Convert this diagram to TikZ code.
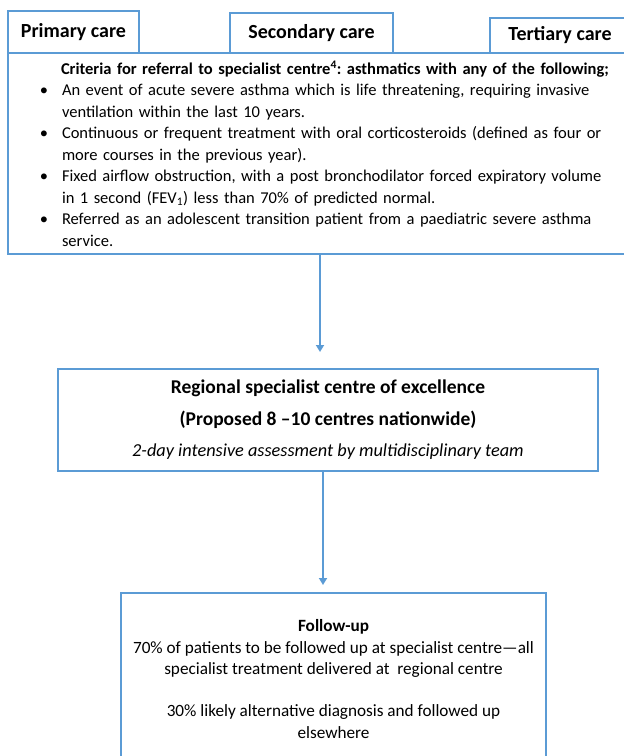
\documentclass[tikz,border=0pt]{standalone}
\usepackage{fontspec}
\setmainfont{Carlito}
\usepackage{enumitem}
\usetikzlibrary{arrows.meta}
\frenchspacing

\definecolor{boxblue}{RGB}{91,155,213}

\tikzset{
  box/.style={draw=boxblue, line width=2pt, inner sep=0pt},
  tab/.style={box, font=\fontsize{20}{22}\selectfont\bfseries},
  flow/.style={draw=boxblue, line width=2pt, -{Triangle[width=8pt,length=7pt]}},
}

\begin{document}
\begin{tikzpicture}[x=1pt,y=-1pt,font=\fontsize{16.5}{21.5}\selectfont]

      \clip (0,0) rectangle (624,756);

      % the criteria box, running off the right edge
      \node[box, anchor=north west, minimum width=632, minimum height=201,
            inner xsep=23pt, text width=586pt, align=left] (criteria) at (7,52) {%
        \hspace*{30pt}\textbf{Criteria for referral to specialist centre\textsuperscript{4}: asthmatics with any of the following;}
        \begin{itemize}[leftmargin=31pt, labelsep=14pt, itemsep=0pt, topsep=0pt, parsep=0pt, partopsep=0pt]
          \item An event of acute severe asthma which is life threatening, requiring invasive\newline ventilation within the last 10 years.
          \item Continuous or frequent treatment with oral corticosteroids (defined as four or\newline more courses in the previous year).
          \item Fixed airflow obstruction, with a post bronchodilator forced expiratory volume\newline in 1 second (FEV\textsubscript{1}) less than 70\% of predicted normal.
          \item Referred as an adolescent transition patient from a paediatric severe asthma\newline service.
        \end{itemize}};

      % 3 tabs for the care levels on top of it
      \foreach \n/\x/\y/\w/\h/\lbl in {primary/7/10/131/42/Primary care,
                                       secondary/229/12/163/40/Secondary care,
                                       tertiary/489/17/140/35/Tertiary care} {
        \node[tab, anchor=north west, minimum width=\w, minimum height=\h] (\n) at (\x,\y) {\lbl};
      }

      % regional centre
      \node[box, anchor=north west, minimum width=540, minimum height=102, align=center,
            font=\fontsize{19.5}{31.5}\selectfont] (centre) at (57,368) {%
        \textbf{Regional specialist centre of excellence}\\
        \textbf{(Proposed 8 –10 centres nationwide)}\\
        {\fontsize{18.3}{31.5}\selectfont\itshape 2-day intensive assessment by multidisciplinary team}};

      % follow-up, cut off at the bottom
      \node[box, anchor=north west, minimum width=425, minimum height=172, align=center,
            font=\fontsize{17.2}{21.3}\selectfont] (followup) at (120,592) {%
        \textbf{Follow-up}\\
        70\% of patients to be followed up at specialist centre—all\\
        specialist treatment delivered at~~regional centre\\[21.3pt]
        30\% likely alternative diagnosis and followed up\\
        elsewhere};

      \coordinate (tip1) at (320,352);
      \coordinate (tip2) at (323,585);
      \draw[flow] (criteria.south -| tip1) -- (tip1);
      \draw[flow] (centre.south -| tip2) -- (tip2);

\end{tikzpicture}
\end{document}
